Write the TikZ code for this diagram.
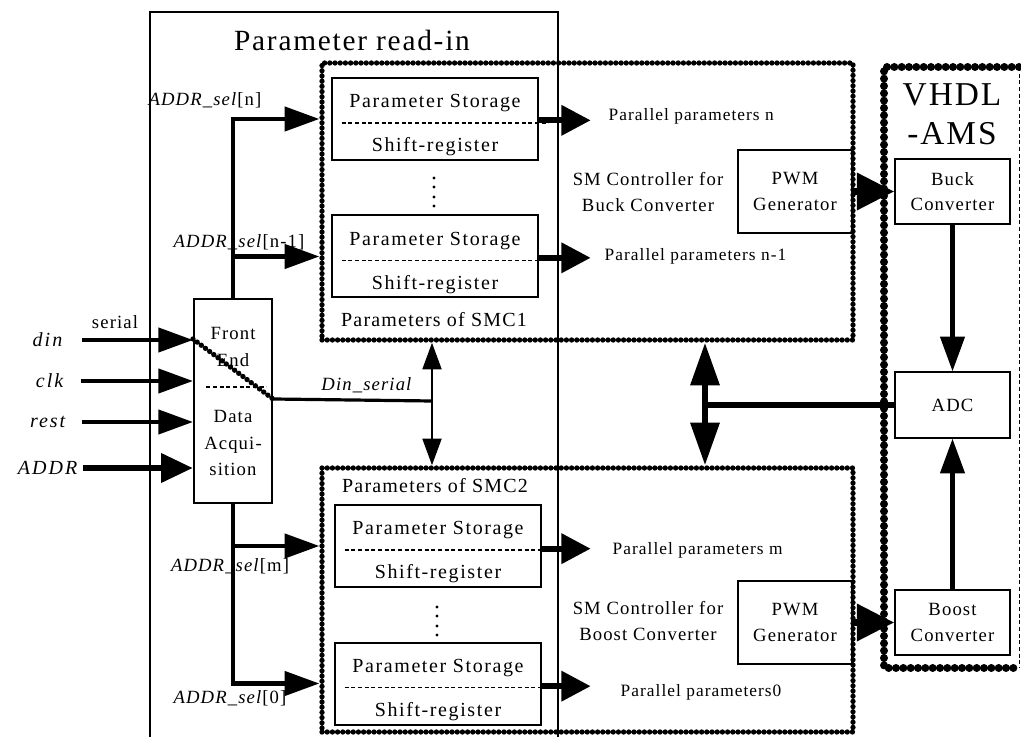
\documentclass[tikz,border=0pt]{standalone}
\usepackage{fontspec}
\setmainfont{Liberation Serif}[LetterSpace=6]
\usepackage{tikz}
\usetikzlibrary{arrows.meta, positioning, calc}

\begin{document}
\begin{tikzpicture}[
  x=0.75pt, y=-0.75pt,
  font=\fontsize{14}{19}\selectfont,
  box/.style={draw, line width=1.5pt, align=center, inner sep=0pt},
  store/.style={box, minimum width=154.5pt, minimum height=61.5pt,
    font=\fontsize{15}{19}\selectfont\addfontfeatures{LetterSpace=8}},
  conv/.style={box, minimum width=86pt, minimum height=49pt},
  pwmbox/.style={box, minimum width=85.5pt, minimum height=62pt},
  outp/.style={anchor=west, font=\fontsize{13}{16}\selectfont},
  dotframe/.style={draw, line width=4pt, dash pattern=on 0pt off 3.9pt, line cap=round},
  fatframe/.style={draw, line width=6pt, dash pattern=on 0pt off 5.5pt, line cap=round},
  sep/.style={dashed, dash pattern=on 3pt off 2pt, line width=1pt},
  wire/.style={line width=2.4pt},
  arr/.style={-{Triangle[length=26pt,width=18pt]}, line width=3.2pt},
  midarr/.style={-{Triangle[length=22pt,width=22pt]}, line width=4.4pt},
  fatarr/.style={-{Triangle[length=28pt,width=27pt]}, line width=5.2pt},
  dbl/.style={{Triangle[length=20pt,width=14pt]}-{Triangle[length=20pt,width=14pt]}, line width=2.2pt},
  fatdbl/.style={{Triangle[length=32pt,width=21pt]}-{Triangle[length=32pt,width=21pt]}, line width=4.8pt},
  lbl/.style={anchor=east, font=\fontsize{15}{19}\selectfont\itshape\addfontfeatures{LetterSpace=10}}
]
  \useasboundingbox (0,0) rectangle (1021,737);

  % parameter read-in frame
  \draw[line width=1.5pt] (150,745) |- (558,12) -- (558,745);
  \node[font=\fontsize{22}{26}\selectfont] (title) at (352,40) {Parameter read-in};

  % SMC frames
  \node[dotframe, minimum width=398.25pt, minimum height=207.75pt] (smc1) at (587.5,201.5) {};
  \node[dotframe, minimum width=398.25pt, minimum height=198pt] (smc2) at (587.5,600) {};
  \node[font=\fontsize{15}{19}\selectfont] (smc1t) at (434,320) {Parameters of SMC1};
  \node[font=\fontsize{15}{19}\selectfont] (smc2t) at (435,486) {Parameters of SMC2};

  % storages
  \node[store] (ps1) at (435,119) {\rule{0pt}{19pt}Parameter Storage\\[14pt]Shift-register};
  \node[store] (ps2) at (435,256.5) {\rule{0pt}{19pt}Parameter Storage\\[14pt]Shift-register};
  \node[store] (ps3) at (438,546) {\rule{0pt}{19pt}Parameter Storage\\[14pt]Shift-register};
  \node[store] (ps4) at (438,683.5) {\rule{0pt}{19pt}Parameter Storage\\[14pt]Shift-register};
  \draw[sep] ([xshift=8pt,yshift=-3pt]ps1.west) -- ([xshift=7pt,yshift=-3pt]ps1.east);
  \draw[sep] ([xshift=8pt,yshift=-3pt]ps2.west) -- ([xshift=7pt,yshift=-3pt]ps2.east);
  \draw[sep] ([xshift=8pt,yshift=-3pt]ps3.west) -- ([xshift=7pt,yshift=-3pt]ps3.east);
  \draw[sep] ([xshift=8pt,yshift=-3pt]ps4.west) -- ([xshift=7pt,yshift=-3pt]ps4.east);
  \foreach \yy in {178,187,197,206} \fill (434,\yy) circle[radius=1.6];
  \foreach \yy in {607,616,626,635} \fill (437,\yy) circle[radius=1.6];

  % parallel outputs
  \node[outp] (pp1) at (604,116) {Parallel parameters n};
  \node[outp] (pp2) at (600,256) {Parallel parameters n-1};
  \node[outp] (pp3) at (608,550) {Parallel parameters m};
  \node[outp] (pp4) at (616,692) {Parallel parameters0};
  \draw[midarr, shorten >=10pt] ([yshift=-1pt]ps1.east) -- ([yshift=-1pt]ps1.east -| pp1.west);
  \draw[midarr, shorten >=7pt] ([yshift=-1pt]ps2.east) -- ([yshift=-1pt]ps2.east -| pp2.west);
  \draw[midarr, shorten >=13pt] ([yshift=-2pt]ps3.east) -- ([yshift=-2pt]ps3.east -| pp3.west);
  \draw[midarr, shorten >=19pt] ([yshift=-2pt]ps4.east) -- ([yshift=-2pt]ps4.east -| pp4.west);

  % controllers
  \node[align=center] (ctl1) at (648,192) {SM Controller for\\Buck Converter};
  \node[align=center] (ctl2) at (648,621) {SM Controller for\\Boost Converter};
  \node[pwmbox] (pwm1) at (795,191.5) {PWM\\Generator};
  \node[pwmbox] (pwm2) at (795,622.5) {PWM\\Generator};

  % VHDL-AMS side
  \draw[fatframe] (1019,67) -- (884,67) -- (884,668) -- (1019,668);
  \draw[sep, line width=0.7pt] (1019,67) -- (1019,668);
  \node[align=center, font=\fontsize{25}{29}\selectfont] (vhdl) at (952,114) {VHDL\\-AMS};
  \node[conv] (buck) at (952.5,191.5) {Buck\\Converter};
  \node[conv] (adc) at (952.5,405) {ADC};
  \node[conv] (boost) at (952.5,622.5) {Boost\\Converter};
  \draw[fatarr] (pwm1.east) -- (buck.west);
  \draw[fatarr] (pwm2.east) -- (boost.west);
  \draw[arr] (buck) -- (adc);
  \draw[arr] (boost) -- (adc);

  % front end
  \node[box, minimum width=58.5pt, minimum height=153pt] (fe) at (233,401) {};
  \node[align=center, font=\fontsize{14}{20}\selectfont] (fet) at (233,347) {Front\\End};
  \node[align=center, font=\fontsize{14}{20}\selectfont] (fed) at (233,443) {Data\\Acqui-\\sition};
  \draw[sep] ([xshift=10pt]fe.west |- 0,387) -- ([xshift=-5pt]fe.east |- 0,387);
  \coordinate (dg1) at ($(fe.north west)+(0,41)$);
  \coordinate (dg2) at ($(fe.north east)+(0,101)$);
  \draw[dotframe] (dg1) -- (dg2);

  % inputs
  \node[lbl] (din) at (67,340) {din};
  \node[lbl] (clk) at (68,381) {clk};
  \node[lbl] (rst) at (70,422) {rest};
  \node[lbl] (addr) at (82,468) {ADDR};
  \node (ser) at (115,322) {serial};
  \draw[arr, shorten <=11pt] (din.east) -- (din.east -| fe.west);
  \draw[arr, shorten <=10pt] (clk.east) -- (clk.east -| fe.west);
  \draw[arr, shorten <=9pt] (rst.east) -- (rst.east -| fe.west);
  \draw[arr, line width=5.2pt, -{Triangle[length=24pt,width=21pt]}, shorten <=1pt] (addr.east) -- (addr.east -| fe.west);

  % address select bus
  \draw[arr] (fe.north) |- (ps1 -| smc1.west);
  \draw[arr] (fe.north |- ps2) -- (ps2 -| smc1.west);
  \draw[arr] (fe.south) |- (ps4 -| smc2.west);
  \draw[arr] (fe.south |- ps3) -- (ps3 -| smc2.west);
  \node (sel1) at (205,100) {\textit{ADDR\_sel}[n]};
  \node (sel2) at (239,242) {\textit{ADDR\_sel}[n-1]};
  \node (sel3) at (230,566) {\textit{ADDR\_sel}[m]};
  \node (sel4) at (230,698) {\textit{ADDR\_sel}[0]};

  % serial data and feedback
  \coordinate (dj) at (432,401);
  \coordinate (bj) at (705,405);
  \draw[wire] (dg2) -- (dj);
  \node (dsl) at (367,385) {\textit{Din\_serial}};
  \draw[dbl] (dj |- smc1.south) -- (dj |- smc2.north);
  \draw[fatdbl] (bj |- smc1.south) -- (bj |- smc2.north);
  \draw[line width=4.8pt] (adc.west) -- (bj);
\end{tikzpicture}
\end{document}
